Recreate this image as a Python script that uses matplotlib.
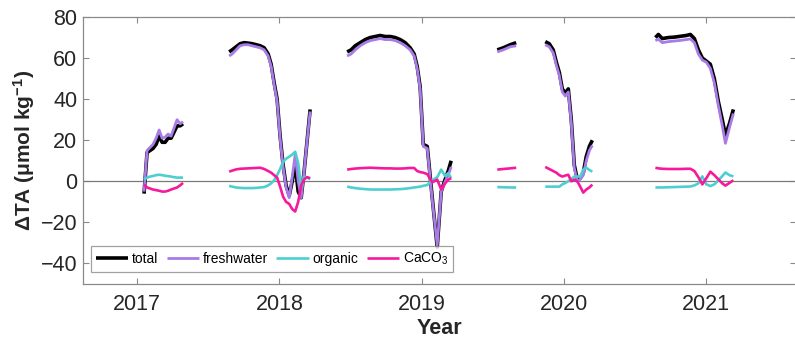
import matplotlib
matplotlib.use("Agg")
import matplotlib.pyplot as plt

plt.rcParams["font.family"] = ["Liberation Sans", "DejaVu Sans"]
plt.rcParams["mathtext.default"] = "regular"

# Decimal-year sample times and alkalinity anomalies (umol/kg) per deployment season
t_2017 = [2017.049, 2017.070, 2017.091, 2017.112, 2017.134, 2017.155, 2017.176,
          2017.197, 2017.218, 2017.239, 2017.260, 2017.281, 2017.302, 2017.323]
total_2017 = [-6, 14, 15, 16, 18, 22, 19, 19, 21, 21, 24, 27, 27, 28]
fresh_2017 = [-5, 15, 16.5, 18, 21, 25, 21, 21.5, 23, 22, 26, 30, 28, 29]
organic_2017 = [0.8, 1.8, 2.3, 2.6, 3, 3.2, 3, 2.7, 2.5, 2.3, 2, 1.8, 1.8, 1.8]
caco3_2017 = [-1.6, -3, -3.5, -4, -4.3, -4.6, -5, -5, -4.6, -4, -3.5, -3, -2, -0.8]

t_2018 = [2017.647, 2017.668, 2017.696, 2017.724, 2017.752, 2017.780, 2017.808,
          2017.837, 2017.865, 2017.893, 2017.921, 2017.942, 2017.963, 2017.984,
          2018.005, 2018.026, 2018.047, 2018.069, 2018.090, 2018.111, 2018.132,
          2018.153, 2018.174, 2018.195, 2018.216]
total_2018 = [63, 64, 65.5, 67, 67.5, 67.3, 67, 66.5, 66, 65, 62, 57, 48, 40, 22,
              8, -2, -7, 0, 8, -5, -8, 5, 20, 35]
fresh_2018 = [61, 62, 64, 66, 66.5, 66.5, 66, 65.5, 65, 64, 61, 56, 47, 39, 21,
              7, -3, -8, 2, 13, 0, -8, 5, 20, 34]
organic_2018 = [-2.2, -2.6, -3, -3.2, -3.3, -3.3, -3.3, -3.2, -3, -2.8, -2, -1,
                0.5, 3, 6, 9.5, 11, 12, 13, 14.4, 9, -3, 2, 2, 1]
caco3_2018 = [4.7, 5.2, 5.8, 6.1, 6.2, 6.3, 6.4, 6.5, 6.6, 6, 5, 4.2, 3, 1.8,
              -2.6, -7.5, -10, -11, -13.5, -14.7, -10, -2, 1, 2, 1.5]

t_2019 = [2018.476, 2018.504, 2018.533, 2018.568, 2018.603, 2018.638, 2018.673,
          2018.708, 2018.743, 2018.779, 2018.814, 2018.849, 2018.884, 2018.919,
          2018.947, 2018.968, 2018.989, 2019.011, 2019.039, 2019.074, 2019.109,
          2019.137, 2019.165, 2019.186, 2019.207]
total_2019 = [63, 64, 66, 67.5, 69, 70, 70.5, 71, 70.5, 70.5, 70, 69, 67.5, 65,
              62, 56, 46, 18, 17, -8, -32, -5, 1, 5, 10]
fresh_2019 = [61, 62, 64, 66, 67.5, 68.5, 69, 69.5, 69, 69, 68.5, 67.5, 66, 64,
              61, 55, 45, 17, 16, -9, -31, -5, 0, 3, 7]
organic_2019 = [-2.6, -3, -3.3, -3.6, -3.8, -4, -4, -4, -4, -4, -3.9, -3.8, -3.6,
                -3.3, -3, -2.8, -2.6, -2.2, -1.8, 0.5, 2, 5.7, 2.5, 4, 1.5]
caco3_2019 = [5.7, 6, 6.2, 6.4, 6.5, 6.6, 6.5, 6.4, 6.3, 6.3, 6.2, 6.2, 6.3, 6.5,
              6.5, 5, 4.5, 4.2, 3.5, -0.5, 0.8, -4, -1, 0.8, 1.5]

t_2019b = [2019.531, 2019.573, 2019.622, 2019.664]
total_2019b = [64, 65, 66.5, 67.5]
fresh_2019b = [63, 64, 65.5, 66]
organic_2019b = [-2.8, -2.9, -3, -3]
caco3_2019b = [5.7, 6, 6.3, 6.6]

t_2020 = [2019.868, 2019.896, 2019.924, 2019.946, 2019.967, 2019.988, 2020.009,
          2020.030, 2020.051, 2020.072, 2020.093, 2020.114, 2020.135, 2020.156,
          2020.178, 2020.199]
total_2020 = [68, 67, 64, 58, 53, 45, 43, 45, 30, 8, 1, 1.5, 4, 12, 17, 20]
fresh_2020 = [66.5, 65.5, 62.5, 56.5, 51.5, 43.5, 41.5, 43.5, 28.5, 6.5, 0, 1, 3,
              10, 15, 17.5]
organic_2020 = [-2.6, -2.6, -2.6, -2.6, -2.6, -1.5, -0.8, 0, 1.2, 2.3, 2.3, 2.3,
                5.7, 6.6, 5.5, 4.7]
caco3_2020 = [7, 6, 5, 4.2, 3, 2.3, 2.8, 3.2, 0, 0.8, 0, -2.6, -5.5, -4, -3, -1.6]

t_2021 = [2020.642, 2020.663, 2020.691, 2020.733, 2020.775, 2020.817, 2020.859,
          2020.888, 2020.916, 2020.944, 2020.972, 2021.000, 2021.028, 2021.056,
          2021.084, 2021.112, 2021.134, 2021.162, 2021.190]
total_2021 = [70, 71.5, 69.5, 70, 70.2, 70.6, 71, 71.5, 69.5, 64, 60, 58.5, 57, 50,
              39, 30, 22.5, 28, 35]
fresh_2021 = [68.5, 69.2, 67.5, 68, 68.3, 68.6, 69, 69.3, 67.5, 62, 59, 58, 55, 48,
              37, 27, 18.5, 26, 33]
organic_2021 = [-3, -3, -3, -2.9, -2.8, -2.7, -2.6, -2.5, -2, -1, 2.4, -1.5, -2.3,
                -1.5, 0.5, 2.5, 4.3, 3, 2.4]
caco3_2021 = [6.6, 6.3, 6.1, 6, 6, 6, 6.1, 6.1, 5, 2, -1.5, 1.5, 4.7, 3, 1, -1,
              -2.1, -0.8, 0.5]

year_ticks = [2017, 2018, 2019, 2020, 2021]
y_ticks = [-40, -20, 0, 20, 40, 60, 80]

seasons = [
    (t_2017, total_2017, fresh_2017, organic_2017, caco3_2017),
    (t_2018, total_2018, fresh_2018, organic_2018, caco3_2018),
    (t_2019, total_2019, fresh_2019, organic_2019, caco3_2019),
    (t_2019b, total_2019b, fresh_2019b, organic_2019b, caco3_2019b),
    (t_2020, total_2020, fresh_2020, organic_2020, caco3_2020),
    (t_2021, total_2021, fresh_2021, organic_2021, caco3_2021),
]

styles = [
    ("total", "black", 2.6, 3),
    ("freshwater", "#A87BE6", 2.0, 4),
    ("organic", "#4DCFD0", 1.9, 5),
    ("CaCO$_3$", "#F7199C", 1.9, 6),
]

axis_grey = "#8a8a8a"
text_col = "#262626"

fig = plt.figure(figsize=(7.95, 3.40), dpi=100)
ax = fig.add_axes([83 / 795, 1 - 284 / 340, 713 / 795, 267 / 340])

ax.axhline(0, color="#7a7a7a", lw=0.9, zorder=2)

handles = []
for i, season in enumerate(seasons):
    t = season[0]
    for (label, color, lw, z), vals in zip(styles, season[1:]):
        line, = ax.plot(t, vals, color=color, lw=lw, zorder=z,
                        solid_joinstyle="round", solid_capstyle="butt",
                        label=label if i == 0 else None)
        if i == 0:
            handles.append(line)

ax.set_xlim(2016.62, 2021.63)
ax.set_ylim(-50, 80)
ax.set_xticks(year_ticks)
ax.set_xticklabels([str(y) for y in year_ticks])
ax.set_yticks(y_ticks)

for side in ["left", "bottom", "top", "right"]:
    ax.spines[side].set_color(axis_grey)
    ax.spines[side].set_linewidth(0.9)
ax.tick_params(direction="in", length=4, width=0.8, color=axis_grey,
               labelsize=15.5, labelcolor=text_col, top=True, right=True)
ax.tick_params(axis="x", pad=7)
ax.tick_params(axis="y", pad=4)

ax.set_xlabel("Year", fontsize=15.5, fontweight="bold", color=text_col, labelpad=2)
ax.set_ylabel("ΔTA (μmol kg$^{-1}$)", fontsize=15, fontweight="bold",
              color=text_col, labelpad=3)

leg = ax.legend(handles=handles, loc="lower left", bbox_to_anchor=(0.011, 0.045),
                ncol=4, fontsize=10, frameon=True, fancybox=False,
                edgecolor=axis_grey, handlelength=2.35, handletextpad=0.25,
                columnspacing=0.6, borderpad=0.35, borderaxespad=0.0)
leg.get_frame().set_linewidth(0.9)
for txt in leg.get_texts():
    txt.set_color("black")

fig.savefig("out.png", dpi=100)
